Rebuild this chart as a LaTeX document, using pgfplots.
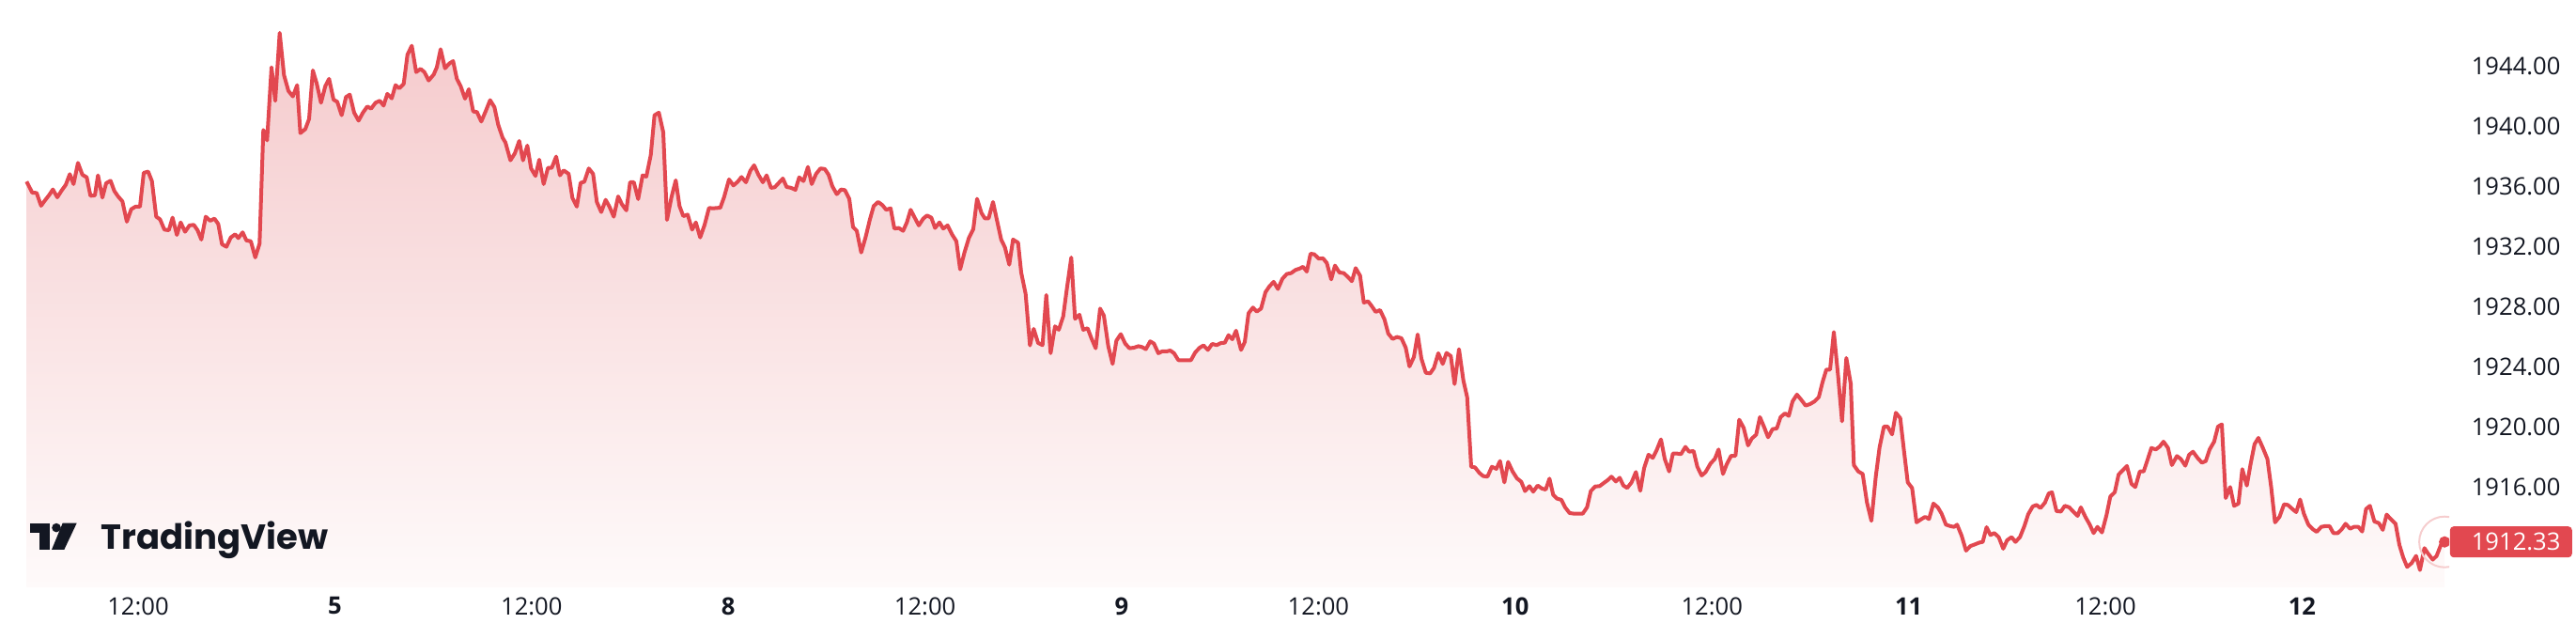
\documentclass[border=0pt]{standalone}
\usepackage{fontspec}
\setmainfont{Open Sans}
\newfontfamily\logofont{Poppins}
\usepackage{pgfplots}
\usepackage{pgfplotstable}
\pgfplotsset{compat=1.18}

\definecolor{tvred}{RGB}{226,72,80}
\definecolor{tvtext}{RGB}{19,23,34}
\definecolor{filltop}{RGB}{245,202,204}
\definecolor{fillbot}{RGB}{254,250,250}
\definecolor{ring}{RGB}{246,205,206}

% gold futures, last week; t = position on the time scale
\pgfplotstableread{
t price
28.3 1936.30
34.3 1935.56
39.0 1935.54
43.7 1934.69
48.3 1935.08
52.3 1935.40
56.3 1935.77
61.0 1935.25
65.7 1935.71
70.0 1936.08
74.3 1936.79
78.3 1936.13
83.0 1937.54
87.7 1936.75
92.3 1936.58
96.3 1935.35
101.0 1935.38
104.3 1936.71
109.0 1935.23
113.0 1936.19
117.7 1936.35
121.7 1935.67
125.7 1935.31
130.3 1934.98
135.0 1933.63
139.7 1934.46
144.3 1934.63
149.0 1934.63
153.0 1936.88
157.7 1936.96
161.7 1936.33
166.3 1933.96
170.3 1933.79
175.0 1933.10
179.7 1933.06
183.7 1933.90
188.3 1932.75
192.3 1933.58
197.0 1932.96
201.7 1933.38
206.3 1933.42
210.3 1933.06
214.3 1932.44
219.0 1933.96
223.7 1933.69
228.3 1933.83
232.3 1933.48
236.3 1932.13
241.0 1931.96
245.7 1932.58
250.3 1932.79
253.7 1932.54
258.3 1932.92
262.3 1932.38
267.0 1932.33
271.7 1931.25
276.3 1932.17
280.3 1939.73
284.3 1939.04
289.0 1943.90
293.0 1941.67
297.7 1946.19
302.3 1943.38
307.0 1942.33
311.7 1941.96
316.3 1942.71
319.7 1939.52
325.0 1939.79
329.0 1940.46
333.0 1943.69
337.0 1942.85
341.7 1941.54
346.3 1942.65
350.3 1943.13
355.0 1941.75
359.0 1941.60
363.7 1940.71
368.3 1941.92
372.3 1942.08
377.0 1940.88
381.7 1940.35
386.3 1940.88
391.0 1941.29
395.0 1941.15
399.7 1941.54
404.3 1941.67
408.3 1941.35
412.3 1942.13
417.0 1941.83
421.0 1942.71
425.0 1942.50
429.7 1942.79
433.7 1944.73
438.3 1945.33
443.0 1943.58
447.7 1943.79
451.7 1943.58
456.3 1943.02
461.7 1943.42
465.0 1943.90
469.0 1945.10
473.7 1943.83
478.3 1944.15
482.3 1944.31
486.3 1943.13
490.3 1942.65
495.0 1941.81
499.0 1942.44
503.7 1940.96
507.7 1940.92
512.3 1940.29
517.0 1940.98
521.7 1941.71
526.3 1941.25
530.3 1940.08
535.0 1939.21
538.0 1938.90
543.3 1937.71
548.0 1938.17
552.7 1939.00
556.7 1937.71
561.3 1938.69
565.3 1937.17
570.0 1936.67
574.0 1937.75
578.7 1936.13
583.3 1937.21
587.3 1937.21
592.0 1937.96
596.0 1936.71
600.0 1937.04
605.3 1936.81
609.3 1935.21
614.0 1934.63
618.0 1936.21
622.0 1936.29
626.7 1937.17
631.3 1936.81
635.3 1934.94
640.0 1934.27
644.7 1935.08
648.7 1934.63
653.3 1933.96
658.0 1935.31
662.0 1934.79
666.7 1934.38
670.7 1936.25
674.7 1936.25
679.3 1935.13
684.0 1936.71
688.0 1936.63
692.7 1938.06
696.7 1940.71
701.3 1940.88
706.0 1939.58
710.0 1933.75
714.7 1935.25
719.3 1936.38
723.3 1934.67
727.3 1934.00
732.0 1934.10
736.7 1933.10
740.7 1933.58
745.3 1932.58
750.0 1933.42
754.7 1934.54
759.3 1934.52
766.7 1934.56
770.7 1935.25
776.0 1936.44
780.7 1936.04
785.3 1936.29
789.3 1936.60
794.0 1936.25
798.7 1937.02
802.7 1937.38
807.3 1936.75
812.0 1936.25
816.0 1936.71
820.7 1935.88
824.7 1935.92
828.7 1936.19
833.3 1936.50
837.3 1935.94
842.0 1935.88
846.7 1935.75
850.7 1936.58
855.3 1936.33
860.0 1937.27
864.0 1936.13
868.7 1936.81
873.3 1937.17
878.0 1937.13
882.0 1936.75
886.0 1935.98
890.7 1935.46
895.3 1935.77
899.3 1935.73
904.0 1935.15
908.0 1933.27
912.0 1933.02
916.7 1931.58
921.3 1932.58
926.0 1933.79
930.0 1934.67
934.7 1934.94
939.3 1934.73
943.3 1934.42
948.0 1934.52
952.0 1933.17
956.7 1933.21
961.3 1933.02
965.3 1933.58
969.3 1934.42
973.3 1933.94
978.0 1933.38
982.7 1933.83
986.7 1934.04
991.3 1933.90
995.3 1933.21
1000.0 1933.58
1004.0 1933.17
1008.7 1933.38
1013.3 1932.79
1018.0 1932.33
1022.0 1930.46
1026.7 1931.60
1031.3 1932.54
1036.0 1933.13
1040.0 1935.15
1044.7 1934.21
1048.3 1933.85
1052.3 1933.85
1057.0 1934.94
1061.7 1933.58
1065.7 1932.44
1069.7 1931.92
1074.3 1930.77
1078.3 1932.44
1083.7 1932.23
1087.0 1930.25
1091.7 1928.83
1096.3 1925.40
1100.3 1926.50
1105.0 1925.56
1109.7 1925.42
1113.7 1928.75
1118.3 1924.88
1123.0 1926.67
1127.0 1926.44
1131.7 1927.33
1135.7 1929.21
1140.3 1931.25
1144.3 1927.17
1149.0 1927.44
1153.0 1926.44
1157.7 1926.54
1161.7 1925.88
1166.3 1925.21
1171.0 1927.85
1175.0 1927.38
1179.7 1925.35
1184.3 1924.17
1188.3 1925.71
1193.0 1926.15
1197.7 1925.52
1202.3 1925.21
1207.0 1925.25
1211.7 1925.35
1215.7 1925.29
1219.7 1925.15
1224.3 1925.67
1228.3 1925.52
1233.0 1924.88
1237.0 1925.00
1241.7 1925.00
1245.7 1925.06
1249.7 1924.88
1254.3 1924.42
1259.0 1924.42
1263.7 1924.42
1267.7 1924.42
1272.3 1924.94
1277.0 1925.25
1281.0 1925.40
1285.7 1925.10
1290.3 1925.50
1295.0 1925.42
1299.7 1925.56
1303.7 1925.58
1307.7 1926.08
1311.7 1925.81
1315.7 1926.38
1321.0 1925.10
1325.0 1925.63
1329.0 1927.54
1333.7 1927.92
1337.7 1927.65
1342.3 1927.85
1347.0 1928.94
1351.0 1929.31
1355.7 1929.63
1360.3 1929.15
1365.0 1929.83
1369.7 1930.15
1374.3 1930.21
1379.0 1930.42
1383.7 1930.52
1387.0 1930.63
1391.0 1930.31
1395.0 1931.50
1399.0 1931.46
1403.7 1931.17
1408.3 1931.19
1412.3 1930.88
1417.0 1929.79
1421.0 1930.71
1425.7 1930.25
1430.3 1930.21
1435.0 1929.94
1439.0 1929.67
1443.0 1930.54
1447.7 1930.04
1451.7 1928.25
1456.3 1928.33
1460.3 1928.00
1464.3 1927.63
1469.0 1927.75
1473.7 1927.13
1477.7 1926.19
1482.3 1925.83
1487.0 1925.96
1491.7 1925.88
1496.3 1925.25
1500.3 1924.00
1505.0 1924.63
1509.0 1926.13
1513.0 1924.52
1517.7 1923.58
1522.3 1923.54
1526.3 1923.90
1531.0 1924.88
1535.7 1924.17
1539.7 1924.90
1544.3 1924.69
1548.3 1922.83
1553.0 1925.15
1557.7 1923.06
1561.7 1921.96
1566.0 1917.33
1570.0 1917.29
1574.7 1916.92
1578.7 1916.71
1583.3 1916.67
1588.0 1917.33
1592.7 1917.19
1596.7 1917.71
1601.3 1916.29
1605.3 1917.65
1610.0 1917.02
1614.7 1916.56
1619.3 1916.33
1623.3 1915.71
1628.0 1916.04
1632.0 1915.67
1636.7 1916.08
1641.3 1915.88
1645.3 1915.81
1649.3 1916.54
1653.3 1915.46
1657.3 1915.21
1662.0 1915.13
1666.0 1914.63
1670.7 1914.25
1675.3 1914.21
1680.0 1914.21
1684.7 1914.21
1689.3 1914.63
1693.3 1915.71
1698.0 1916.02
1702.7 1916.04
1706.7 1916.23
1711.3 1916.44
1715.3 1916.67
1720.0 1916.35
1724.0 1916.60
1728.0 1916.08
1732.0 1915.92
1736.7 1916.29
1741.3 1916.98
1746.0 1915.73
1750.0 1917.23
1754.7 1918.13
1759.3 1917.92
1763.3 1918.42
1768.0 1919.15
1772.0 1917.85
1776.7 1917.02
1780.7 1918.21
1784.7 1918.21
1789.3 1918.17
1794.0 1918.65
1798.0 1918.33
1802.7 1918.38
1806.7 1917.33
1811.3 1916.75
1815.3 1916.96
1820.7 1917.54
1825.3 1917.85
1829.3 1918.48
1834.0 1916.85
1838.0 1917.50
1842.7 1918.06
1847.3 1918.06
1851.3 1920.46
1856.0 1919.92
1860.7 1918.75
1864.7 1919.21
1869.3 1919.46
1873.3 1920.63
1878.0 1919.94
1882.0 1919.29
1886.7 1919.83
1891.3 1919.88
1895.3 1920.63
1900.0 1920.88
1904.0 1920.71
1908.0 1921.67
1912.7 1922.13
1916.7 1921.83
1922.0 1921.40
1926.7 1921.50
1931.3 1921.67
1936.0 1921.96
1940.0 1922.96
1944.0 1923.79
1948.0 1923.79
1952.0 1926.29
1956.7 1923.27
1960.7 1920.35
1965.3 1924.56
1970.0 1922.85
1973.3 1917.44
1978.0 1917.02
1982.7 1916.85
1987.3 1914.94
1992.0 1913.73
1996.7 1916.71
2000.7 1918.63
2005.3 1920.00
2009.3 1920.00
2014.0 1919.48
2018.0 1920.92
2022.7 1920.56
2026.7 1918.38
2030.7 1916.29
2035.3 1915.92
2040.0 1913.63
2044.7 1913.83
2049.3 1914.00
2053.3 1913.85
2058.0 1914.88
2062.7 1914.63
2066.7 1914.21
2071.3 1913.48
2076.0 1913.38
2080.0 1913.33
2083.2 1913.48
2088.0 1912.75
2092.7 1911.75
2097.5 1912.06
2102.3 1912.17
2107.1 1912.29
2110.5 1912.33
2114.6 1913.31
2118.7 1912.79
2122.8 1912.92
2127.5 1912.65
2132.3 1911.88
2136.4 1912.44
2141.2 1912.65
2145.3 1912.33
2150.1 1912.65
2154.8 1913.38
2158.9 1914.17
2163.7 1914.69
2167.8 1914.79
2171.9 1914.58
2176.7 1914.94
2180.8 1915.56
2184.2 1915.63
2189.0 1914.38
2193.7 1914.35
2197.8 1914.73
2202.6 1914.63
2207.4 1914.31
2211.5 1914.06
2214.9 1914.63
2219.7 1914.00
2224.4 1913.48
2228.5 1912.92
2232.6 1913.33
2237.4 1912.96
2242.2 1914.10
2246.3 1915.35
2251.0 1915.63
2255.1 1916.81
2259.2 1917.08
2264.0 1917.38
2268.8 1916.19
2272.9 1915.98
2277.7 1917.02
2281.8 1917.02
2285.9 1917.79
2290.0 1918.58
2294.7 1918.48
2298.8 1918.67
2302.9 1919.00
2307.7 1918.58
2311.8 1917.44
2317.2 1918.04
2321.3 1917.85
2326.1 1917.40
2330.2 1918.13
2334.3 1918.33
2339.1 1917.92
2343.8 1917.60
2347.9 1917.71
2352.0 1918.48
2356.8 1919.00
2360.9 1920.00
2365.0 1920.15
2369.1 1915.25
2373.9 1915.98
2378.0 1914.73
2382.7 1914.88
2386.8 1917.17
2391.6 1916.08
2395.7 1917.54
2399.8 1918.83
2403.9 1919.25
2408.7 1918.58
2413.5 1917.85
2417.5 1915.98
2421.6 1913.63
2426.4 1914.00
2431.2 1914.83
2435.3 1914.79
2440.1 1914.52
2444.2 1914.31
2448.3 1915.15
2452.3 1914.21
2457.1 1913.48
2461.9 1913.17
2466.0 1913.00
2470.8 1913.33
2474.9 1913.38
2479.6 1913.38
2483.7 1912.92
2488.5 1912.92
2492.6 1913.17
2496.7 1913.54
2501.5 1913.21
2505.6 1913.33
2510.3 1913.33
2514.4 1913.02
2518.5 1914.52
2522.6 1914.73
2527.4 1913.69
2532.2 1913.58
2536.3 1913.13
2540.4 1914.15
2545.1 1913.83
2549.9 1913.54
2554.0 1912.13
2558.1 1911.29
2562.2 1910.67
2567.0 1910.92
2571.8 1911.40
2575.9 1910.46
2580.6 1911.92
2584.7 1911.54
2589.5 1911.15
2593.6 1911.40
2598.4 1912.17
2602.1 1912.33
}\gold

\pgfplotstableread{
t price
2602.1 1912.33
}\last

\begin{document}
\begin{tikzpicture}
\path[use as bounding box] (0,0) rectangle (685.5pt,170pt);
\begin{axis}[
    at={(0pt,13.75pt)}, anchor=south west,
    scale only axis,
    width=651.75pt, height=156.25pt,
    xmin=0, xmax=2607,
    ymin=1909.3125, ymax=1948.375,
    axis line style={draw=none},
    major tick length=0pt,
    clip mode=individual,
    clip marker paths=true,
    ytick={1916,1920,1924,1928,1932,1936,1940,1944},
    yticklabels={1916.00,1920.00,1924.00,1928.00,1932.00,1936.00,1940.00,1944.00},
    yticklabel pos=right,
    yticklabel style={anchor=west, inner sep=0pt, xshift=5.75pt},
    xtick={147,356.4,565.8,775.2,984.6,1194,1403.4,1612.8,1822.2,2031.6,2241,2450.4},
    xticklabels={12:00,\textbf{5},12:00,\textbf{8},12:00,\textbf{9},12:00,\textbf{10},12:00,\textbf{11},12:00,\textbf{12}},
    xticklabel style={anchor=center, inner sep=0pt, yshift=-5pt},
    ticklabel style={font=\fontsize{6.4}{7.5}\selectfont, text=tvtext},
    /pgf/number format/assume math mode=true,
]
% area under the price line
\addplot[draw=none, top color=filltop, bottom color=fillbot]
    table[x=t, y=price]{\gold} |- (axis cs:28.3,1909.3125) -- cycle;
\addplot[tvred, line width=1pt, line join=round] table[x=t, y=price]{\gold};
% last price marker
\addplot[ring, only marks, mark=o, mark size=6.75pt,
    mark options={draw=ring, fill=none, line width=0.5pt}] table[x=t, y=price]{\last};
\addplot[tvred, only marks, mark=*, mark size=1.3pt,
    mark options={draw=tvred, fill=tvred}] table[x=t, y=price]{\last};
\node[fill=tvred, rounded corners=1pt, minimum width=32.5pt, minimum height=8.25pt,
    inner sep=0pt, anchor=west] at (axis cs:2607,1912.33) {};
\node[anchor=west, inner sep=0pt, xshift=5.75pt, text=white,
    font=\fontsize{6.4}{7.5}\selectfont] at (axis cs:2607,1912.33) {1912.33};
\end{axis}
% TradingView logo
\fill[tvtext] (7.92pt,28.33pt) rectangle (13.33pt,30.83pt);
\fill[tvtext] (10.42pt,23.75pt) rectangle (13.33pt,30.83pt);
\fill[tvtext] (15pt,29.6pt) circle (1.2pt);
\fill[tvtext] (16.67pt,30.83pt) -- (20.42pt,30.83pt) -- (17.08pt,23.75pt) -- (13.75pt,23.75pt) -- cycle;
\node[anchor=base west, inner sep=0pt, text=tvtext,
    font=\logofont\bfseries\fontsize{9.25}{11}\selectfont] at (26.75pt,23.75pt) {TradingView};
\end{tikzpicture}
\end{document}
